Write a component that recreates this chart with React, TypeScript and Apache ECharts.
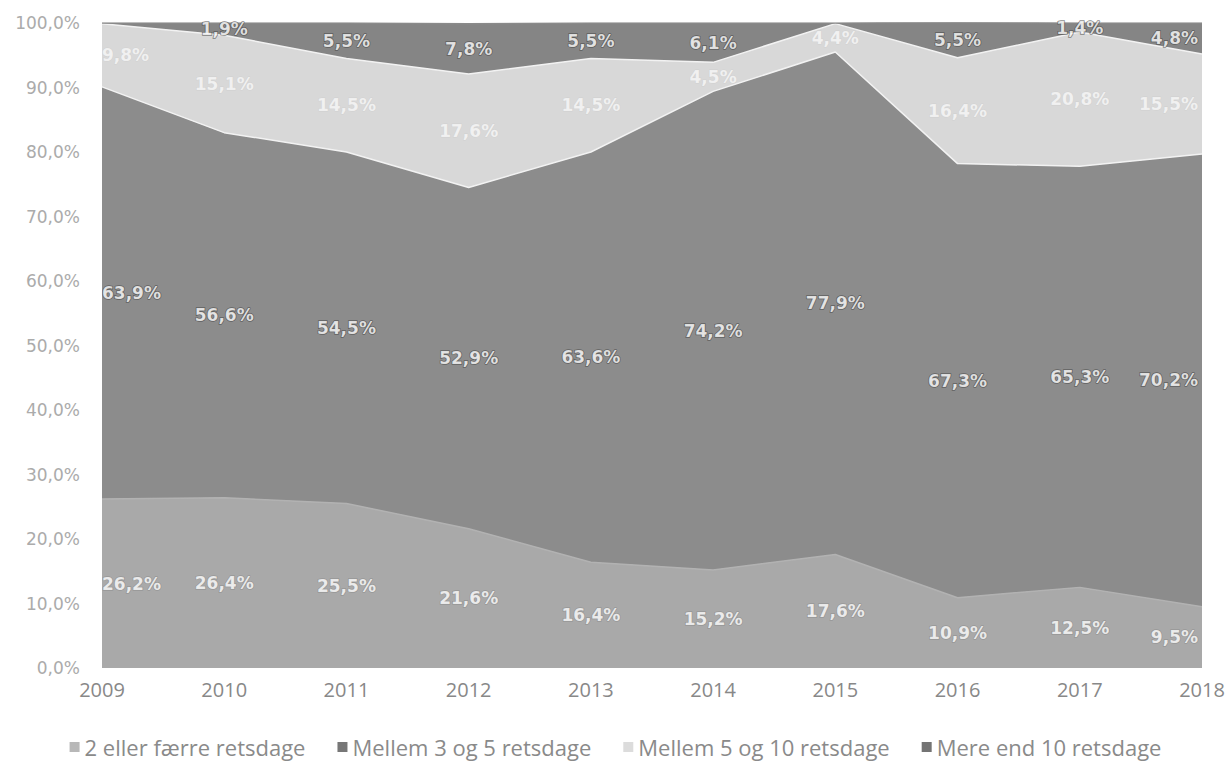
import React, { useEffect, useRef } from "react";
import * as echarts from "echarts";

const years = ["2009", "2010", "2011", "2012", "2013", "2014", "2015", "2016", "2017", "2018"];
const seriesNames = [
  "2 eller færre retsdage",
  "Mellem 3 og 5 retsdage",
  "Mellem 5 og 10 retsdage",
  "Mere end 10 retsdage",
];
const twoOrFewer = [26.2, 26.4, 25.5, 21.6, 16.4, 15.2, 17.6, 10.9, 12.5, 9.5];
const threeToFive = [63.9, 56.6, 54.5, 52.9, 63.6, 74.2, 77.9, 67.3, 65.3, 70.2];
const fiveToTen = [9.8, 15.1, 14.5, 17.6, 14.5, 4.5, 4.4, 16.4, 20.8, 15.5];
const moreThanTen = [0.1, 1.9, 5.5, 7.8, 5.5, 6.1, 0.1, 5.5, 1.4, 4.8];
const yTicks = [0, 10, 20, 30, 40, 50, 60, 70, 80, 90, 100];

const areaColors = ["#a9a9a9", "#8c8c8c", "#d8d8d8", "#858585"];
const legendColors = ["#b8b8b8", "#777777", "#dcdcdc", "#747474"];
const labelBorders = [
  "rgba(130,130,130,0.6)",
  "rgba(70,70,70,0.8)",
  "rgba(200,200,200,0.6)",
  "rgba(70,70,70,0.8)",
];
const lineColors = ["#b2b2b2", "#f2f2f2", "#f2f2f2", "#8a8a8a"];

const fmt = (v: number) => v.toFixed(1).replace(".", ",") + "%";

export default function App() {
  const ref = useRef<HTMLDivElement>(null);
  useEffect(() => {
    if (!ref.current) return;
    const chart = echarts.init(ref.current, null, { renderer: "svg" });
    const all = [twoOrFewer, threeToFive, fiveToTen, moreThanTen];

    const areaSeries = all.map((vals, si) => ({
      name: seriesNames[si],
      type: "line",
      stack: "total",
      symbol: "none",
      data: vals,
      itemStyle: { color: legendColors[si] },
      lineStyle: { color: lineColors[si], width: 1.5 },
      areaStyle: { color: areaColors[si], opacity: 1 },
      z: 2,
    }));

    const labelSeries = all.map((vals, si) => ({
      name: "lbl" + si,
      type: "scatter",
      symbolSize: 0,
      silent: true,
      z: 10,
      data: vals
        .map((v, i) => {
          let below = 0;
          for (let k = 0; k < si; k++) below += all[k][i];
          const item: any = { value: [years[i], below + v / 2, v] };
          if (i === 0) item.label = { position: "right", distance: 0 };
          if (i === years.length - 1) item.label = { position: "left", distance: 4 };
          return v >= 1 ? item : null;
        })
        .filter((d) => d !== null),
      label: {
        show: true,
        position: "inside",
        formatter: (p: any) => fmt(p.value[2]),
        color: si === 2 ? "#f8f8f8" : "#ffffff",
        fontFamily: "DejaVu Sans",
        fontWeight: "bold",
        fontSize: 17,
        textBorderColor: labelBorders[si],
        textBorderWidth: si === 2 ? 1 : 1.5,
      },
    }));

    chart.setOption({
      animation: false,
      backgroundColor: "#ffffff",
      grid: { left: 102, right: 29, top: 23, bottom: 95, containLabel: false },
      legend: {
        data: seriesNames.map((n, i) => ({ name: n, itemStyle: { color: legendColors[i], borderWidth: 0 } })),
        icon: "rect",
        itemWidth: 10,
        itemHeight: 10,
        itemGap: 32,
        top: 735,
        left: "center",
        padding: 0,
        textStyle: { color: "#8a8a8a", fontSize: 22, lineHeight: 24, fontFamily: "Open Sans" },
      },
      xAxis: {
        type: "category",
        data: years,
        boundaryGap: false,
        axisLine: { show: false },
        axisTick: { show: false },
        splitLine: { show: false },
        axisLabel: { color: "#888888", fontSize: 20, fontFamily: "Open Sans", margin: 11 },
      },
      yAxis: {
        type: "value",
        min: yTicks[0],
        max: yTicks[yTicks.length - 1],
        interval: yTicks[1] - yTicks[0],
        axisLine: { show: false },
        axisTick: { show: false },
        splitLine: { show: false },
        axisLabel: {
          color: "#ababab",
          fontSize: 17,
          fontFamily: "DejaVu Sans",
          margin: 22,
          formatter: (v: number) => fmt(v),
        },
      },
      series: [...areaSeries, ...labelSeries],
    } as any);
    return () => chart.dispose();
  }, []);
  return (
    <div
      ref={ref}
      style={{ position: "fixed", left: 0, top: 0, width: 1231, height: 763, background: "#fff" }}
    />
  );
}
